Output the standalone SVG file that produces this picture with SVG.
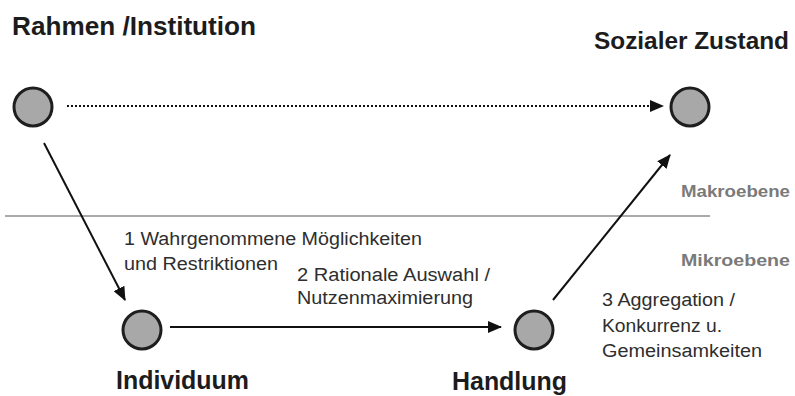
<svg xmlns="http://www.w3.org/2000/svg" width="795" height="396" viewBox="0 0 795 396">
<style>
.node{fill:#a8a8a8;stroke:#1e1e1e;stroke-width:3}
.big{font-family:"Liberation Sans",Arial,sans-serif;font-weight:bold;font-size:26px;fill:#1c1c1c}
.lbl{font-family:"Liberation Sans",Arial,sans-serif;font-size:18px;fill:#2e2e2e}
.lvl{font-family:"Liberation Sans",Arial,sans-serif;font-weight:bold;font-size:17px;fill:#7a7a7a}
.conn{stroke:#111;stroke-width:2;fill:none}
</style>
<defs>
<marker id="ah" viewBox="0 0 14 12" refX="13" refY="6" markerWidth="14" markerHeight="12" markerUnits="userSpaceOnUse" orient="auto">
<path d="M0,0 L14,6 L0,12 Z" fill="#111"/>
</marker>
</defs>
<rect width="795" height="396" fill="#fff"/>
<line x1="5" y1="216" x2="710" y2="216" stroke="#aaaaaa" stroke-width="2"/>
<text class="lvl" x="681" y="197" textLength="109" lengthAdjust="spacingAndGlyphs">Makroebene</text>
<text class="lvl" x="681" y="266" textLength="109" lengthAdjust="spacingAndGlyphs">Mikroebene</text>
<g id="connectors">
<line class="conn" x1="67" y1="106" x2="663" y2="106" stroke-dasharray="2 2" stroke="#333" marker-end="url(#ah)"/>
<line class="conn" x1="44" y1="143" x2="125" y2="300" marker-end="url(#ah)"/>
<line class="conn" x1="170" y1="327" x2="501" y2="327" marker-end="url(#ah)"/>
<line class="conn" x1="553" y1="300" x2="670" y2="155" marker-end="url(#ah)"/>
</g>
<g id="rahmen">
<circle class="node" cx="33" cy="107" r="19"/>
<text class="big" x="12" y="35" textLength="244" lengthAdjust="spacingAndGlyphs">Rahmen /Institution</text>
</g>
<g id="sozialer-zustand">
<circle class="node" cx="690" cy="107" r="19"/>
<text class="big" x="594" y="49" style="font-size:24px" textLength="195" lengthAdjust="spacingAndGlyphs">Sozialer Zustand</text>
</g>
<g id="individuum">
<circle class="node" cx="142" cy="330" r="19"/>
<text class="big" x="116" y="389" textLength="133" lengthAdjust="spacingAndGlyphs">Individuum</text>
</g>
<g id="handlung">
<circle class="node" cx="534" cy="330" r="19"/>
<text class="big" x="452" y="390" textLength="115" lengthAdjust="spacingAndGlyphs">Handlung</text>
</g>
<g id="labels">
<text class="lbl" x="124" y="245" textLength="298" lengthAdjust="spacingAndGlyphs">1 Wahrgenommene Möglichkeiten</text>
<text class="lbl" x="124" y="270" textLength="154" lengthAdjust="spacingAndGlyphs">und Restriktionen</text>
<text class="lbl" x="297" y="281" textLength="193" lengthAdjust="spacingAndGlyphs">2 Rationale Auswahl /</text>
<text class="lbl" x="297" y="304" textLength="176" lengthAdjust="spacingAndGlyphs">Nutzenmaximierung</text>
<text class="lbl" x="602" y="306" textLength="133" lengthAdjust="spacingAndGlyphs">3 Aggregation /</text>
<text class="lbl" x="602" y="332" textLength="120" lengthAdjust="spacingAndGlyphs">Konkurrenz u.</text>
<text class="lbl" x="602" y="357" textLength="160" lengthAdjust="spacingAndGlyphs">Gemeinsamkeiten</text>
</g>
</svg>
